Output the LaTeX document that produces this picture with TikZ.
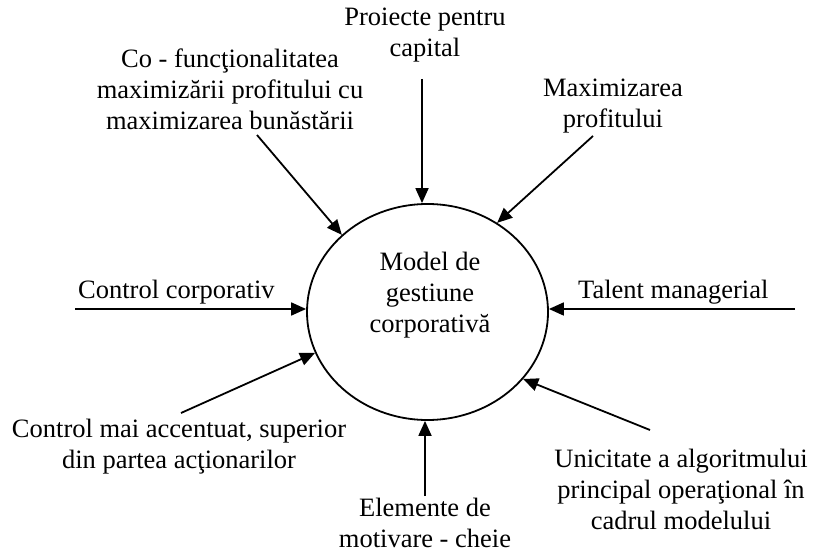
\documentclass[tikz,border=0pt]{standalone}
\usepackage{fontspec}
\setmainfont{Liberation Serif}
\usetikzlibrary{shapes.geometric,arrows.meta}
\begin{document}
\begin{tikzpicture}[x=1pt,y=-1pt,
  lbl/.style={align=center,inner sep=0pt,font=\fontsize{26.5}{31}\selectfont},
  conn/.style={line width=1.8pt,-{Triangle[length=15pt,width=13pt]}},
  bubble/.style={draw,ellipse,line width=1.8pt,minimum width=241pt,minimum height=216pt,inner sep=0pt}]
\useasboundingbox (0,0) rectangle (814,553);
\node[bubble] (m) at (427.5,312) {};
\node[lbl] (mt) at (430,295) {Model de\\gestiune\\corporativă};
\node[lbl] (t1) at (425,35) {Proiecte pentru\\capital};
\node[lbl] (t2) at (230,89) {Co - funcţionalitatea\\maximizării profitului cu\\maximizarea bunăstării};
\node[lbl] (t3) at (613,106) {Maximizarea\\profitului};
\node[lbl,anchor=west] (t4) at (78,292) {Control corporativ};
\node[lbl,anchor=west] (t5) at (578,292) {Talent managerial};
\node[lbl] (t6) at (179,447) {Control mai accentuat, superior\\din partea acţionarilor};
\node[lbl] (t7) at (681,489) {Unicitate a algoritmului\\principal operaţional în\\cadrul modelului};
\node[lbl] (t8) at (425,523) {Elemente de\\motivare - cheie};
\coordinate (s1) at (422,79);
\coordinate (s2) at (257,135);
\coordinate (s3) at (593,136);
\coordinate (s4) at (75,309);
\coordinate (s5) at (795,309);
\coordinate (s6) at (181,413);
\coordinate (s7) at (650,430);
\coordinate (s8) at (425,496);
\draw[conn] (s1) -- (s1 |- m.north);
\draw[conn] (s2) -- (m.138.5);
\draw[conn] (s3) -- (m.52.8);
\draw[conn] (s4) -- (m.west |- s4);
\draw[conn] (s5) -- (m.east |- s5);
\draw[conn] (s6) -- (m.200.4);
\draw[conn] (s7) -- (m.-35.7);
\draw[conn] (s8) -- (s8 |- m.south);
\end{tikzpicture}
\end{document}
